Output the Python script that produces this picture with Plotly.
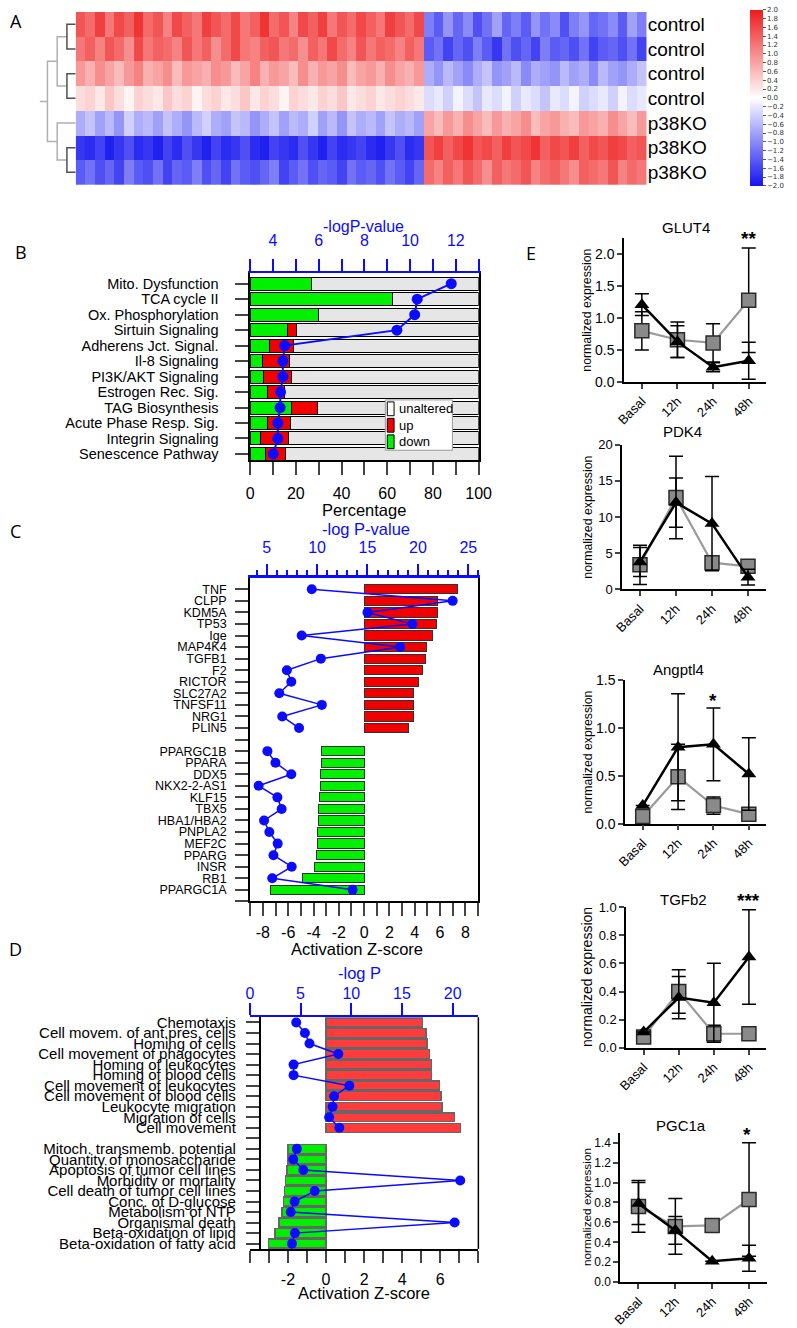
import plotly.graph_objects as go

W, H = 797, 1328
FONT = "Liberation Sans, Arial, sans-serif"
BLUE = "#0b0bff"


def px_x(v):
    return v / W


def px_y(v):
    return 1 - v / H


def xdom(a, b):
    return [a / W, b / W]


def ydom(top, bottom):
    return [1 - bottom / H, 1 - top / H]


# ---------------- panel A data ----------------
heat_labels = ["control", "control", "control", "control", "p38KO", "p38KO", "p38KO"]
heat_z = [
    [1.5, 1.3, 1.7, 1.2, 1.6, 1.4, 1.8, 1.3, 1.5, 1.1, 1.6, 1.4, 1.2, 1.7, 1.5, 1.3, 1.6, 1.2,
     1.4, 1.8, 1.3, 1.5, 1.1, 1.6, 1.4, 1.7, 1.2, 1.5, 1.3, 1.6, 1.4, 1.2, 1.7, 1.5, 1.3, 1.6,
     -1.1, -1.4, -0.9, -1.3, -1.0, -1.5, -1.2, -0.8, -1.3, -1.1, -1.4, -0.9, -1.2, -1.0, -1.5,
     -1.1, -0.9, -1.3, -1.2, -1.0, -1.4, -0.8, -1.1],
    [1.2, 1.4, 1.1, 1.5, 1.3, 1.0, 1.6, 1.2, 1.4, 1.3, 1.1, 1.5, 1.2, 1.4, 1.0, 1.3, 1.6, 1.2,
     1.1, 1.4, 1.5, 1.2, 1.3, 1.0, 1.4, 1.2, 1.6, 1.3, 1.1, 1.5, 1.2, 1.4, 1.3, 1.1, 1.4, 1.2,
     -1.4, -1.2, -1.6, -1.3, -1.5, -1.1, -1.4, -1.7, -1.2, -1.5, -1.3, -1.6, -1.1, -1.4, -1.3,
     -1.5, -1.2, -1.6, -1.4, -1.3, -1.5, -1.2, -1.6],
    [0.9, 0.7, 1.0, 0.8, 0.6, 0.9, 1.1, 0.7, 0.8, 1.0, 0.6, 0.9, 0.8, 0.7, 1.0, 0.9, 0.6, 0.8,
     1.1, 0.7, 0.9, 0.8, 0.6, 1.0, 0.7, 0.9, 0.8, 1.0, 0.6, 0.8, 0.9, 0.7, 1.0, 0.8, 0.7, 0.9,
     -0.7, -0.9, -0.6, -0.8, -1.0, -0.7, -0.5, -0.9, -0.8, -0.6, -1.0, -0.7, -0.8, -0.9, -0.6,
     -0.8, -0.7, -1.0, -0.6, -0.8, -0.9, -0.7, -0.5],
    [0.3, 0.4, 0.2, 0.5, 0.3, 0.1, 0.4, 0.3, 0.2, 0.5, 0.3, 0.4, 0.1, 0.3, 0.4, 0.2, 0.3, 0.5,
     0.2, 0.4, 0.3, 0.1, 0.4, 0.3, 0.2, 0.4, 0.3, 0.5, 0.2, 0.3, 0.4, 0.2, 0.3, 0.4, 0.3, 0.2,
     -0.3, -0.2, -0.4, -0.1, -0.3, -0.5, -0.2, -0.3, -0.1, -0.4, -0.2, -0.3, -0.5, -0.2, -0.3,
     -0.1, -0.4, -0.3, -0.2, -0.4, -0.1, -0.3, -0.2],
    [-0.7, -0.5, -0.8, -0.6, -0.9, -0.4, -0.7, -0.6, -0.8, -0.5, -0.7, -0.9, -0.6, -0.4, -0.7,
     -0.8, -0.5, -0.6, -0.9, -0.7, -0.5, -0.8, -0.6, -0.7, -0.4, -0.8, -0.6, -0.9, -0.5, -0.7,
     -0.6, -0.8, -0.5, -0.7, -0.6, -0.8,
     0.8, 0.6, 0.9, 0.7, 1.0, 0.8, 0.6, 0.9, 0.7, 0.8, 1.0, 0.6, 0.8, 0.9, 0.7, 0.6, 0.9, 0.8,
     0.7, 1.0, 0.8, 0.6, 0.9],
    [-1.7, -1.8, -1.6, -1.9, -1.7, -1.5, -1.8, -1.7, -1.9, -1.6, -1.8, -1.5, -1.7, -1.9, -1.6,
     -1.8, -1.7, -1.5, -1.8, -1.9, -1.6, -1.7, -1.8, -1.5, -1.7, -1.9, -1.6, -1.8, -1.7, -1.6,
     -1.8, -1.9, -1.7, -1.5, -1.8, -1.7,
     1.5, 1.7, 1.4, 1.6, 1.8, 1.5, 1.6, 1.4, 1.7, 1.5, 1.6, 1.8, 1.4, 1.6, 1.5, 1.7, 1.4, 1.6,
     1.5, 1.7, 1.6, 1.4, 1.5],
    [-1.4, -1.2, -1.5, -1.3, -1.6, -1.1, -1.4, -1.5, -1.2, -1.6, -1.3, -1.4, -1.1, -1.5, -1.3,
     -1.6, -1.2, -1.4, -1.5, -1.3, -1.1, -1.6, -1.4, -1.2, -1.5, -1.3, -1.4, -1.6, -1.2, -1.4,
     -1.3, -1.5, -1.2, -1.4, -1.6, -1.3,
     1.3, 1.1, 1.4, 1.2, 1.5, 1.3, 1.0, 1.4, 1.2, 1.3, 1.5, 1.1, 1.3, 1.4, 1.2, 1.0, 1.4, 1.3,
     1.2, 1.5, 1.1, 1.3, 1.2],
]
# merges: (left cluster, right cluster, height); new clusters get ids 7, 8, ...
dendro_merges = [(0, 1, 0.9), (2, 3, 0.9), (5, 6, 0.9), (7, 8, 1.9), (4, 9, 1.9), (10, 11, 2.9)]
dendro_root_top = 3.7

# ---------------- panel B data ----------------
b_pathways = ["Mito. Dysfunction", "TCA cycle II", "Ox. Phosphorylation", "Sirtuin Signaling",
              "Adherens Jct. Signal.", "Il-8 Signaling", "PI3K/AKT Signaling",
              "Estrogen Rec. Sig.", "TAG Biosynthesis", "Acute Phase Resp. Sig.",
              "Integrin Signaling", "Senescence Pathway"]
b_down = [26.7, 62.3, 29.9, 16.2, 8.4, 5.2, 5.8, 7.7, 18.2, 7.5, 4.5, 6.9]
b_up = [0, 0, 0, 3.9, 10.5, 12.2, 12.1, 7.5, 11.3, 10.1, 12.2, 8.7]
b_unaltered = [73.3, 37.7, 70.1, 79.9, 81.1, 82.6, 82.1, 84.8, 70.5, 82.4, 83.3, 84.4]
b_logp = [11.8, 10.31, 10.2, 9.42, 4.51, 4.43, 4.43, 4.33, 4.31, 4.21, 4.21, 4.01]
b_legend = ["unaltered", "up", "down"]

# ---------------- panel C data ----------------
c_up_genes = ["TNF", "CLPP", "KDM5A", "TP53", "Ige", "MAP4K4", "TGFB1", "F2", "RICTOR",
              "SLC27A2", "TNFSF11", "NRG1", "PLIN5"]
c_up_z = [7.40, 5.76, 5.76, 5.71, 5.38, 4.94, 4.84, 4.61, 4.28, 3.92, 3.92, 3.92, 3.48]
c_up_logp = [9.47, 23.45, 15.0, 19.46, 8.47, 18.24, 10.37, 7.0, 7.44, 6.25, 10.47, 6.54, 8.21]
c_down_genes = ["PPARGC1B", "PPARA", "DDX5", "NKX2-2-AS1", "KLF15", "TBX5", "HBA1/HBA2",
                "PNPLA2", "MEF2C", "PPARG", "INSR", "RB1", "PPARGC1A"]
c_down_z = [-3.35, -3.35, -3.43, -3.45, -3.50, -3.58, -3.61, -3.66, -3.71, -3.76, -3.91,
            -4.88, -7.37]
c_down_logp = [5.07, 5.87, 7.44, 4.2, 6.06, 6.48, 4.74, 5.26, 6.09, 5.67, 7.48, 5.55, 13.52]

# ---------------- panel D data ----------------
d_up_terms = ["Chemotaxis", "Cell movem. of ant.pres. cells", "Homing of cells",
              "Cell movement of phagocytes", "Homing of leukocytes", "Homing of blood cells",
              "Cell movement of leukocytes", "Cell movement of blood cells",
              "Leukocyte migration", "Migration of cells", "Cell movement"]
d_up_z = [5.07, 5.24, 5.31, 5.44, 5.54, 5.54, 5.97, 6.04, 6.09, 6.75, 7.07]
d_up_logp = [4.57, 5.43, 5.88, 8.72, 4.31, 4.31, 9.81, 8.30, 8.15, 7.82, 8.82]
d_down_terms = ["Mitoch. transmemb. potential", "Quantity of monosaccharide",
                "Apoptosis of tumor cell lines", "Morbidity or mortality",
                "Cell death of tumor cell lines", "Conc. of D-glucose", "Metabolism of NTP",
                "Organismal death", "Beta-oxidation of lipid", "Beta-oxidation of fatty acid"]
d_down_z = [-2.01, -2.01, -2.04, -2.13, -2.18, -2.24, -2.30, -2.48, -2.69, -3.01]
d_down_logp = [4.63, 4.28, 5.27, 20.74, 6.39, 4.41, 4.03, 20.19, 4.44, 4.15]

# ---------------- panel E data ----------------
time_labels = ["Basal", "12h", "24h", "48h"]
glut4_sq = [0.80, 0.66, 0.61, 1.28]
glut4_sq_err = [0.30, 0.28, 0.30, 0.82]
glut4_tri = [1.21, 0.63, 0.23, 0.33]
glut4_tri_err = [0.17, 0.25, 0.07, 0.29]
pdk4_sq = [3.4, 12.7, 3.7, 3.2]
pdk4_sq_err = [2.7, 5.7, 0.4, 0.3]
pdk4_tri = [3.8, 12.0, 9.1, 1.7]
pdk4_tri_err = [2.0, 3.4, 6.5, 1.1]
angptl4_sq = [0.076, 0.49, 0.19, 0.10]
angptl4_sq_err = [0.0, 0.34, 0.09, 0.04]
angptl4_tri = [0.19, 0.80, 0.83, 0.52]
angptl4_tri_err = [0.0, 0.56, 0.38, 0.38]
tgfb2_sq = [0.077, 0.40, 0.10, 0.10]
tgfb2_sq_err = [0.0, 0.155, 0.06, 0.0]
tgfb2_tri = [0.112, 0.357, 0.32, 0.645]
tgfb2_tri_err = [0.0, 0.15, 0.28, 0.335]
pgc1a_sq = [0.76, 0.56, 0.57, 0.83]
pgc1a_sq_err = [0.26, 0.28, 0.0, 0.57]
pgc1a_tri = [0.79, 0.52, 0.21, 0.24]
pgc1a_tri_err = [0.21, 0.14, 0.0, 0.13]

fig = go.Figure()
annotations = []
shapes = []


def text(x, y, s, size=16, color="black", angle=0, family=FONT, xanchor="center", bold=False):
    if bold:
        s = "<b>" + s + "</b>"
    annotations.append(dict(x=px_x(x), y=px_y(y), xref="paper", yref="paper", text=s,
                            showarrow=False, textangle=angle, xanchor=xanchor, yanchor="middle",
                            font=dict(size=size, color=color, family=family)))


def box(x0, y0, x1, y1, fill, line="black", width=1):
    shapes.append(dict(type="rect", xref="paper", yref="paper", x0=px_x(x0), x1=px_x(x1),
                       y0=px_y(y1), y1=px_y(y0), fillcolor=fill,
                       line=dict(color=line, width=width)))


# ================= A: heatmap + dendrogram =================
fig.add_trace(go.Heatmap(
    z=heat_z, x=list(range(len(heat_z[0]))), y=list(range(len(heat_z))),
    zmin=-2, zmax=2,
    colorscale=[[0, "#1414f0"], [0.5, "#ffffff"], [1, "#ee1c1c"]],
    xaxis="x", yaxis="y",
    colorbar=dict(x=px_x(762), xanchor="left", y=px_y(91), yanchor="middle",
                  len=176, lenmode="pixels", thickness=13, thicknessmode="pixels",
                  tick0=-2, dtick=0.2, tickformat=".1f", ticks="outside", ticklen=3,
                  tickcolor="#555", outlinewidth=0, xpad=0, ypad=0,
                  tickfont=dict(size=7, color="#333", family="DejaVu Sans")),
))

pos = {i: float(i) for i in range(len(heat_z))}
hgt = {i: 0.0 for i in range(len(heat_z))}
dark_x, dark_y, light_x, light_y = [], [], [], []
new_id = len(heat_z)
for a, b, h in dendro_merges:
    xs = [hgt[a], h, h, hgt[b], None]
    ys = [pos[a], pos[a], pos[b], pos[b], None]
    if h < 1:
        dark_x += xs
        dark_y += ys
    else:
        light_x += xs
        light_y += ys
    pos[new_id] = (pos[a] + pos[b]) / 2
    hgt[new_id] = h
    new_id += 1
root = new_id - 1
light_x += [hgt[root], dendro_root_top]
light_y += [pos[root], pos[root]]
fig.add_trace(go.Scatter(x=light_x, y=light_y, mode="lines", xaxis="x2", yaxis="y",
                         line=dict(color="#b0b0b0", width=1.5), hoverinfo="skip"))
fig.add_trace(go.Scatter(x=dark_x, y=dark_y, mode="lines", xaxis="x2", yaxis="y",
                         line=dict(color="#505050", width=1.5), hoverinfo="skip"))

# ================= B: pathways =================
B_GREEN, B_RED, B_GRAY = "#00f000", "#f20000", "#e6e6e6"
b_rows = list(range(len(b_pathways)))
bar_common = dict(orientation="h", width=0.84, xaxis="x3", yaxis="y3")
fig.add_trace(go.Bar(y=b_rows, x=b_down, name="down", marker=dict(color=B_GREEN,
                     line=dict(color="black", width=1)), **bar_common))
fig.add_trace(go.Bar(y=b_rows, x=b_up, name="up", marker=dict(color=B_RED,
                     line=dict(color="black", width=1)), **bar_common))
fig.add_trace(go.Bar(y=b_rows, x=b_unaltered, name="unaltered", marker=dict(color=B_GRAY,
                     line=dict(color="black", width=1)), **bar_common))
fig.add_trace(go.Scatter(y=b_rows, x=b_logp, mode="lines+markers", xaxis="x4", yaxis="y3",
                         line=dict(color=BLUE, width=2), marker=dict(color=BLUE, size=11),
                         cliponaxis=False))

# hand-drawn legend box (unaltered / up / down)
box(387, 397, 456, 448, "white", line="#999", width=1)
for i, (label, col) in enumerate(zip(b_legend, ["white", B_RED, B_GREEN])):
    cy = 406 + i * 16.7
    box(389, cy - 7, 396, cy + 7, col, line="black", width=1)
    text(399.5, cy, label, size=13, xanchor="left")

# ================= C: upstream regulators =================
c_up_rows = list(range(len(c_up_genes)))
c_down_rows = [len(c_up_genes) + 1 + i for i in range(len(c_down_genes))]
fig.add_trace(go.Bar(y=c_up_rows, x=c_up_z, orientation="h", width=0.8, xaxis="x5", yaxis="y5",
                     marker=dict(color="#f20000", line=dict(color="#333", width=1))))
fig.add_trace(go.Bar(y=c_down_rows, x=c_down_z, orientation="h", width=0.8, xaxis="x5",
                     yaxis="y5", marker=dict(color="#00f000", line=dict(color="#333", width=1))))
for rows, vals in ((c_up_rows, c_up_logp), (c_down_rows, c_down_logp)):
    fig.add_trace(go.Scatter(y=rows, x=vals, mode="lines+markers", xaxis="x6", yaxis="y5",
                             line=dict(color=BLUE, width=1.5), marker=dict(color=BLUE, size=10),
                             cliponaxis=False))

# ================= D: functions =================
d_up_rows = list(range(len(d_up_terms)))
d_down_rows = [len(d_up_terms) + 1 + i for i in range(len(d_down_terms))]
fig.add_trace(go.Bar(y=d_up_rows, x=d_up_z, orientation="h", width=0.85, xaxis="x7", yaxis="y7",
                     marker=dict(color="#ff3b3b", line=dict(color="#666", width=1.5))))
fig.add_trace(go.Bar(y=d_down_rows, x=d_down_z, orientation="h", width=0.85, xaxis="x7",
                     yaxis="y7", marker=dict(color="#00ee00", line=dict(color="#666", width=1.5))))
for rows, vals in ((d_up_rows, d_up_logp), (d_down_rows, d_down_logp)):
    fig.add_trace(go.Scatter(y=rows, x=vals, mode="lines+markers", xaxis="x8", yaxis="y7",
                             line=dict(color=BLUE, width=1.5), marker=dict(color=BLUE, size=10),
                             cliponaxis=False))

# ================= E: qPCR time courses =================
e_panels = [
    # n, x domain px, y domain px (top, bottom), y range, dtick, fmt, data..., title,
    # title pos, star, y-title size, tick font size
    (9, (632.5, 779), (233.3, 378.7), [0, 2.25], 0.5, ".1f", glut4_sq, glut4_sq_err, glut4_tri,
     glut4_tri_err, "GLUT4", (696.7, 222.7), ("**", 760.7, 233), 12.3, 14),
    (10, (630.4, 778.5), (442.3, 589), [0, 20], 5, "d", pdk4_sq, pdk4_sq_err, pdk4_tri,
     pdk4_tri_err, "PDK4", (692.7, 429.3), None, 12.3, 13),
    (11, (633.5, 779), (681, 826.3), [0, 1.5], 0.5, ".1f", angptl4_sq, angptl4_sq_err,
     angptl4_tri, angptl4_tri_err, "Angptl4", (688, 670), ("*", 724, 701), 12.3, 14),
    (12, (634.6, 779), (910.7, 1053.3), [0, 1.0], 0.2, ".1f", tgfb2_sq, tgfb2_sq_err, tgfb2_tri,
     tgfb2_tri_err, "TGFb2", (694, 902.7), ("***", 760, 904), 14.0, 13),
    (13, (628.4, 780), (1139.3, 1290.7), [0, 1.5], 0.2, ".1f", pgc1a_sq, pgc1a_sq_err,
     pgc1a_tri, pgc1a_tri_err, "PGC1a", (690.7, 1131.7), ("*", 759.3, 1141), 11.8, 12),
]
x_pos = [0, 1, 2, 3]
e_layout = {}
for (n, dx, dy, yr, dt, fmt, sq, sq_err, tri, tri_err, title, tpos, star, tsize,
     tick_size) in e_panels:
    xa, ya = f"x{n}", f"y{n}"
    fig.add_trace(go.Scatter(
        x=x_pos, y=sq, mode="lines+markers", xaxis=xa, yaxis=ya,
        cliponaxis=False, line=dict(color="#9a9a9a", width=2.2),
        marker=dict(symbol="square", size=14, color="#8a8a8a", line=dict(color="#2a2a2a", width=1.5)),
        error_y=dict(type="data", array=sq_err, color="black", thickness=1.5, width=7)))
    fig.add_trace(go.Scatter(
        x=x_pos, y=tri, mode="lines+markers", xaxis=xa, yaxis=ya,
        cliponaxis=False, line=dict(color="black", width=2.5),
        marker=dict(symbol="triangle-up", size=13, color="black"),
        error_y=dict(type="data", array=tri_err, color="black", thickness=1.5, width=7)))
    e_layout[f"xaxis{n}"] = dict(
        domain=xdom(*dx), range=[-0.5, 3.5], anchor=ya, tickvals=x_pos, ticktext=time_labels,
        tickangle=-45, ticks="outside", ticklen=5, tickwidth=1.5, showline=True, linewidth=1.5,
        linecolor="black", showgrid=False, zeroline=False,
        tickfont=dict(size=13, family=FONT, color="black"))
    e_layout[f"yaxis{n}"] = dict(
        domain=ydom(*dy), range=yr, anchor=xa, dtick=dt, tick0=0, tickformat=fmt,
        ticks="outside", ticklen=5, tickwidth=1.5, showline=True, linewidth=1.5,
        linecolor="black", showgrid=False, zeroline=False,
        tickfont=dict(size=tick_size, family=FONT, color="black"))
    text(tpos[0], tpos[1], title, size=15)
    if star:
        text(star[1], star[2], star[0], size=19, bold=True)
    text(595, (dy[0] + dy[1]) / 2, "normalized expression", size=tsize, angle=-90)

# ================= text labels =================
text(7, 13, "A", size=18, family="Open Sans, sans-serif")
text(12, 247, "B", size=18, family="Open Sans, sans-serif")
text(7, 530, "C", size=18, family="Open Sans, sans-serif")
text(7, 953, "D", size=18, family="Open Sans, sans-serif")
text(537, 248, "E", size=18, family="Open Sans, sans-serif")

text(364.3, 221, "-logP-value", size=16, color=BLUE)
text(365, 508.3, "Percentage", size=16.5)
text(366.7, 527.3, "-log P-value", size=16.5, color=BLUE)
text(358.3, 952.7, "Activation Z-score", size=16.5)
text(360, 977.3, "-log P", size=16.5, color=BLUE)
text(365, 1302, "Activation Z-score", size=16.5)

# right spine for panel D
shapes.append(dict(type="line", xref="paper", yref="paper", x0=px_x(482.7), x1=px_x(482.7),
                   y0=px_y(1022.3), y1=px_y(1257), line=dict(color="black", width=1.5)))

axis_font = dict(family=FONT, color="black")
c_ticktext = [""] + c_up_genes + [""] + c_down_genes + [""]
d_ticktext = d_up_terms + [""] + d_down_terms

fig.update_layout(
    width=W, height=H, margin=dict(l=0, r=0, t=0, b=0),
    paper_bgcolor="white", plot_bgcolor="white",
    barmode="stack", bargap=0.15,
    font=dict(family=FONT, color="black"),
    showlegend=False,
    # A
    xaxis=dict(domain=xdom(68.6, 655.8), range=[-0.5, len(heat_z[0]) - 0.5], visible=False,
               anchor="y"),
    yaxis=dict(domain=ydom(4, 179), range=[6.5, -0.5], side="right", anchor="x",
               tickvals=list(range(len(heat_labels))), ticktext=heat_labels, ticks="",
               showgrid=False, zeroline=False, showline=False,
               tickfont=dict(size=19, family=FONT, color="black")),
    xaxis2=dict(domain=xdom(31.5, 68.6), range=[dendro_root_top, 0], visible=False, anchor="y"),
    # B
    xaxis3=dict(domain=xdom(248, 483), range=[0, 100], anchor="y3", tickvals=list(range(0, 101, 10)),
                ticktext=[str(v) if v % 20 == 0 else "" for v in range(0, 101, 10)],
                ticks="outside", ticklen=13, tickwidth=1.5, showline=True, linewidth=1.5,
                linecolor="black", showgrid=False, zeroline=False, ticklabelstandoff=5,
                tickfont=dict(size=16, **axis_font)),
    xaxis4=dict(overlaying="x3", anchor="y3", side="top", range=[3, 13],
                tickvals=list(range(3, 14)),
                ticktext=[str(v) if v % 2 == 0 else "" for v in range(3, 14)],
                ticks="outside", ticklen=12, tickwidth=2, tickcolor=BLUE, showline=True,
                linewidth=2, linecolor=BLUE, showgrid=False, zeroline=False,
                ticklabelstandoff=6, tickfont=dict(size=16, family=FONT, color=BLUE)),
    yaxis3=dict(domain=ydom(268, 458), range=[11.4, -0.72], anchor="x3",
                tickvals=b_rows, ticktext=b_pathways, ticks="outside", ticklen=13,
                tickwidth=1.5, showline=True, linewidth=1.5, linecolor="black", mirror=True,
                showgrid=False, zeroline=False, ticklabelstandoff=14,
                tickfont=dict(size=14.5, **axis_font)),
    # C
    xaxis5=dict(domain=xdom(247.7, 482.7), range=[-9.03, 9.03], anchor="y5",
                tickvals=list(range(-9, 10)),
                ticktext=[str(v) if v % 2 == 0 else "" for v in range(-9, 10)],
                ticks="outside", ticklen=13, tickwidth=1.5, showline=True, linewidth=1.5,
                linecolor="black", showgrid=False, zeroline=False, ticklabelstandoff=3,
                tickfont=dict(size=16, **axis_font)),
    xaxis6=dict(overlaying="x5", anchor="y5", side="top", range=[3.33, 26.0], tick0=0, dtick=5,
                ticks="outside", ticklen=12, tickwidth=2, tickcolor=BLUE, showline=True,
                linewidth=2.5, linecolor=BLUE, showgrid=False, zeroline=False,
                minor=dict(dtick=1, tick0=0, ticks="outside", ticklen=6, tickwidth=1.5,
                           tickcolor=BLUE, showgrid=False),
                ticklabelstandoff=4, tickfont=dict(size=16, family=FONT, color=BLUE)),
    yaxis5=dict(domain=ydom(577.7, 905), range=[27, -0.95], anchor="x5",
                tickvals=list(range(-1, 28)), ticktext=c_ticktext, ticks="outside", ticklen=13,
                tickwidth=1.5, showline=True, linewidth=1.5, linecolor="black", mirror=True,
                showgrid=False, zeroline=False, ticklabelstandoff=6,
                tickfont=dict(size=12.5, **axis_font)),
    # D
    xaxis7=dict(domain=xdom(247.7, 482.7), range=[-4, 8], anchor="y7",
                tickvals=list(range(-4, 9)),
                ticktext=[str(v) if v in (-2, 0, 2, 4, 6) else "" for v in range(-4, 9)],
                ticks="outside", ticklen=12, tickwidth=1.5, showline=True, linewidth=1.5,
                linecolor="black", showgrid=False, zeroline=False, ticklabelstandoff=3,
                tickfont=dict(size=16, **axis_font)),
    xaxis8=dict(overlaying="x7", anchor="y7", side="top", range=[0, 22.53], tick0=0, dtick=5,
                ticks="outside", ticklen=12, tickwidth=2, tickcolor=BLUE, showline=True,
                linewidth=2, linecolor=BLUE, showgrid=False, zeroline=False,
                ticklabelstandoff=-2, tickfont=dict(size=16, family=FONT, color=BLUE)),
    yaxis7=dict(domain=ydom(1022.3, 1257), range=[21.5, -0.5], anchor="free",
                position=px_x(257.7), tickvals=list(range(0, 22)), ticktext=d_ticktext,
                ticks="outside", ticklen=13, tickwidth=1.5, showline=True, linewidth=1.5,
                linecolor="black", showgrid=False, zeroline=False, ticklabelstandoff=7,
                tickfont=dict(size=15, **axis_font)),
    annotations=annotations,
    shapes=shapes,
)
fig.update_layout(**e_layout)

# remove the default page margin so the figure sits at the window origin
fig.write_html("out.html", config={"displayModeBar": False},
               post_script="document.body.style.margin='0';document.body.style.overflow='hidden';")
